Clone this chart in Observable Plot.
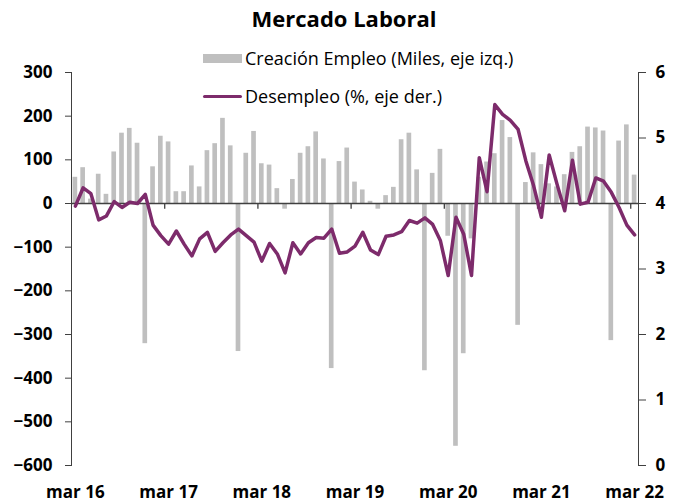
<!DOCTYPE html>
<html>
<head>
<meta charset="utf-8">
<script src="https://cdn.jsdelivr.net/npm/d3@7"></script>
<script src="https://cdn.jsdelivr.net/npm/@observablehq/plot@0.6"></script>
<style>
  body { margin: 0; background: #fff; font-family: "Open Sans", sans-serif; }
  #wrap { position: relative; width: 678px; height: 504px; overflow: hidden; }
  #title { height: 40px; line-height: 36px; text-align: center; font-weight: bold; font-size: 22px; color: #000; padding-left: 10px; box-sizing: border-box; }
  .leg { position: absolute; left: 203px; font-size: 18px; color: #000; display: flex; align-items: center; white-space: nowrap; }
  .sw-bar { width: 39px; height: 9px; background: #BFBFBF; margin-right: 3px; }
  .sw-line { width: 39px; height: 3px; background: #7D2B6B; margin-right: 3px; border-radius: 2px; }
</style>
</head>
<body>
<div id="wrap">
  <div id="title">Mercado Laboral</div>
  <div id="chart"></div>
  <div class="leg" style="top:46px"><div class="sw-bar"></div><span>Creación Empleo (Miles, eje izq.)</span></div>
  <div class="leg" style="top:84px"><div class="sw-line"></div><span>Desempleo (%, eje der.)</span></div>
</div>
<script>
// Job creation (thousands, left axis), monthly Mar-2016 .. Mar-2022
const jobs = [
  60, 82, 10, 67, 21, 118, 161, 172, 138, -321, 84, 154,
  141, 27, 27, 86, 38, 121, 137, 195, 132, -339, 115, 165,
  91, 88, 34, -13, 55, 115, 130, 164, 102, -378, 96, 127,
  49, 31, 5, -13, 18, 37, 146, 161, 77, -383, 69, 124,
  -75, -556, -344, -81, 60, 95, 114, 190, 151, -279, 48, 116,
  89, 45, 38, 66, 117, 130, 175, 173, 166, -314, 143, 180,
  65
];
// Unemployment rate (%, right axis)
const unemp = [
  3.96, 4.24, 4.15, 3.75, 3.81, 4.03, 3.94, 4.02, 4.00, 4.14, 3.67, 3.51,
  3.38, 3.58, 3.38, 3.20, 3.46, 3.56, 3.27, 3.40, 3.52, 3.61, 3.51, 3.41,
  3.12, 3.39, 3.23, 2.94, 3.40, 3.23, 3.40, 3.48, 3.47, 3.61, 3.24, 3.26,
  3.35, 3.56, 3.29, 3.22, 3.50, 3.52, 3.57, 3.74, 3.70, 3.78, 3.68, 3.43,
  2.90, 3.79, 3.53, 2.90, 4.70, 4.18, 5.51, 5.36, 5.27, 5.13, 4.65, 4.27,
  3.79, 4.74, 4.30, 3.89, 4.66, 3.99, 4.02, 4.39, 4.34, 4.17, 3.94, 3.67,
  3.52
];
const tickLabels = ["mar 16", "mar 17", "mar 18", "mar 19", "mar 20", "mar 21", "mar 22"];
const leftTicks = [-600, -500, -400, -300, -200, -100, 0, 100, 200, 300];
const rightTicks = [0, 1, 2, 3, 4, 5, 6];

const start = new Date(Date.UTC(2016, 2, 1));
const keys = d3.utcMonth.range(start, d3.utcMonth.offset(start, jobs.length)).map(d3.utcFormat("%Y-%m"));
const data = keys.map((k, i) => ({key: k, jobs: jobs[i], unemp: unemp[i]}));

// map right-axis values (0..6) onto left-axis domain (-600..300)
const toLeft = u => -600 + u * 150;
const fromLeft = v => Math.round((v + 600) / 150);

const tickKeys = keys.filter((k, i) => i % 12 === 0);
const labelOf = new Map(tickKeys.map((k, i) => [k, tickLabels[i]]));
const boundaryKeys = tickKeys.slice(1);

const W = 678, H = 464, mL = 71, mR = 40;
const step = (W - mL - mR) / keys.length;

const plot = Plot.plot({
  width: W, height: H,
  marginTop: 32, marginBottom: 39, marginLeft: mL, marginRight: mR,
  style: {fontFamily: "Open Sans, sans-serif", fontSize: "17px", fontWeight: "bold", color: "#000", background: "#fff"},
  x: {type: "band", domain: keys, paddingInner: 0.4, paddingOuter: 0.2, axis: null},
  y: {domain: [-600, 300], axis: null},
  marks: [
    Plot.barY(data, {x: "key", y: "jobs", fill: "#BFBFBF"}),
    Plot.ruleY([0], {stroke: "#404040", strokeWidth: 1.3}),
    Plot.ruleX(boundaryKeys, {x: d => d, y1: 0, y2: -13, dx: -step / 2, stroke: "#404040", strokeWidth: 1.3}),
    Plot.lineY(data, {x: "key", y: d => toLeft(d.unemp), stroke: "#7D2B6B", strokeWidth: 3.5, strokeLinejoin: "round"}),
    Plot.axisY(leftTicks, {anchor: "left", label: null, tickSize: 6, tickPadding: 13, stroke: "#404040"}),
    Plot.axisY(rightTicks.map(toLeft), {anchor: "right", label: null, tickSize: 7, tickPadding: 10, tickFormat: fromLeft, stroke: "#404040"}),
    Plot.axisX(tickKeys, {anchor: "bottom", label: null, tickSize: 0, tickPadding: 20, tickFormat: d => labelOf.get(d)}),
    Plot.frame({anchor: "left", stroke: "#404040"}),
    Plot.frame({anchor: "right", stroke: "#404040"})
  ]
});
document.getElementById("chart").appendChild(plot);
</script>
</body>
</html>
